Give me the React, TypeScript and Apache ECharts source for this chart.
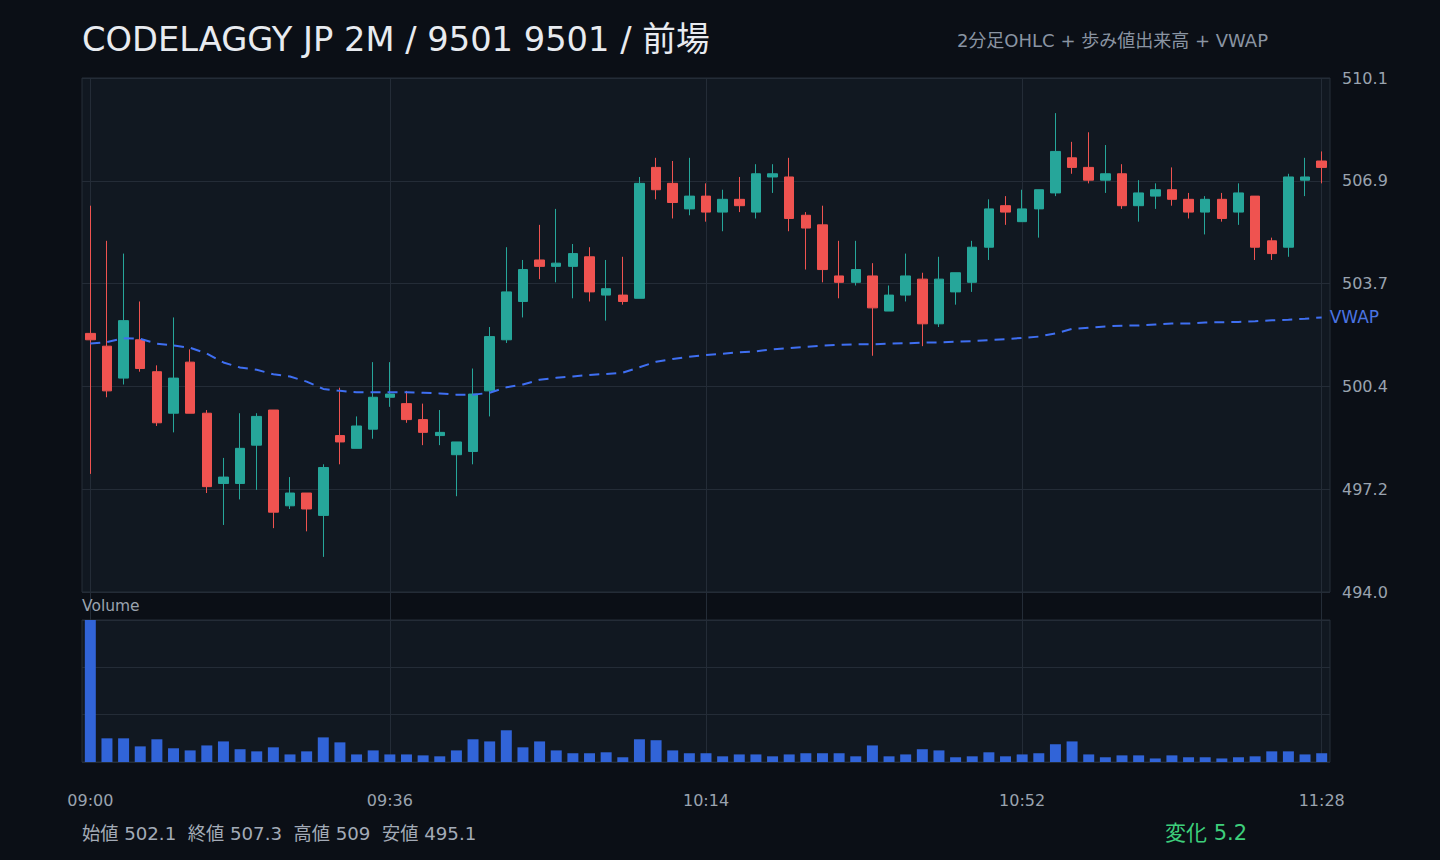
import React, { useEffect, useRef } from "react";
import * as echarts from "echarts";

const TIMES = [
  "09:00", "09:02", "09:04", "09:06", "09:08", "09:10", "09:12", "09:14", "09:16", "09:18",
  "09:20", "09:22", "09:24", "09:26", "09:28", "09:30", "09:32", "09:34", "09:36", "09:38",
  "09:40", "09:42", "09:44", "09:46", "09:48", "09:50", "09:52", "09:54", "09:56", "09:58",
  "10:00", "10:02", "10:04", "10:06", "10:08", "10:10", "10:12", "10:14", "10:16", "10:18",
  "10:20", "10:22", "10:24", "10:26", "10:28", "10:30", "10:32", "10:34", "10:36", "10:38",
  "10:40", "10:42", "10:44", "10:46", "10:48", "10:50", "10:52", "10:54", "10:56", "10:58",
  "11:00", "11:02", "11:04", "11:06", "11:08", "11:10", "11:12", "11:14", "11:16", "11:18",
  "11:20", "11:22", "11:24", "11:26", "11:28",
];

const OPEN = [
  502.1, 501.7, 500.7, 501.9, 500.9, 499.6, 501.2, 499.6, 497.4, 497.4,
  498.6, 499.7, 496.7, 497.1, 496.4, 498.9, 498.5, 499.1, 500.1, 499.9,
  499.4, 498.9, 498.3, 498.4, 500.3, 501.9, 503.1, 504.4, 504.2, 504.2,
  504.5, 503.3, 503.3, 503.2, 507.3, 506.8, 506.0, 506.4, 505.9, 506.3,
  505.9, 507.0, 507.0, 505.8, 505.5, 503.9, 503.7, 503.9, 502.8, 503.3,
  503.8, 502.4, 503.4, 503.7, 504.8, 506.1, 505.6, 506.0, 506.5, 507.6,
  507.3, 506.9, 507.1, 506.1, 506.4, 506.6, 506.3, 505.9, 506.3, 505.9,
  506.4, 505.0, 504.8, 506.9, 507.5,
];
const HIGH = [
  506.1, 505.0, 504.6, 503.1, 501.1, 502.6, 501.6, 499.7, 498.2, 499.6,
  499.6, 499.7, 497.6, 497.1, 498.0, 500.4, 499.5, 501.2, 501.2, 500.3,
  499.9, 499.7, 498.7, 501.0, 502.3, 504.8, 504.4, 505.5, 506.0, 504.9,
  504.8, 504.4, 504.5, 507.0, 507.6, 507.5, 507.6, 506.8, 506.6, 507.0,
  507.4, 507.4, 507.6, 505.9, 506.1, 505.0, 505.0, 504.3, 503.6, 504.6,
  504.0, 504.5, 504.0, 505.0, 506.3, 506.4, 506.6, 506.6, 509.0, 508.1,
  508.4, 508.0, 507.4, 506.9, 506.8, 507.3, 506.5, 506.4, 506.5, 506.8,
  506.4, 505.1, 507.1, 507.6, 507.8,
];
const LOW = [
  497.7, 500.1, 500.5, 500.9, 499.2, 499.0, 499.6, 497.1, 496.1, 496.9,
  497.2, 496.0, 496.6, 495.9, 495.1, 498.0, 498.5, 498.8, 499.8, 499.3,
  498.6, 498.6, 497.0, 498.0, 499.5, 501.8, 502.6, 503.8, 503.7, 503.2,
  503.1, 502.5, 503.0, 503.2, 506.3, 505.7, 505.8, 505.6, 505.3, 505.9,
  505.7, 506.5, 505.3, 504.1, 503.7, 503.2, 503.6, 501.4, 502.8, 503.1,
  501.7, 502.3, 503.0, 503.4, 504.4, 505.5, 505.6, 505.1, 506.4, 507.1,
  506.8, 506.5, 506.0, 505.6, 506.0, 506.1, 505.7, 505.2, 505.6, 505.5,
  504.4, 504.4, 504.5, 506.4, 506.8,
];
const CLOSE = [
  501.9, 500.3, 502.5, 501.0, 499.3, 500.7, 499.6, 497.3, 497.6, 498.5,
  499.5, 496.5, 497.1, 496.6, 497.9, 498.7, 499.2, 500.1, 500.2, 499.4,
  499.0, 499.0, 498.7, 500.2, 502.0, 503.4, 504.1, 504.2, 504.3, 504.6,
  503.4, 503.5, 503.1, 506.8, 506.6, 506.2, 506.4, 505.9, 506.3, 506.1,
  507.1, 507.1, 505.7, 505.4, 504.1, 503.7, 504.1, 502.9, 503.3, 503.9,
  502.4, 503.8, 504.0, 504.8, 506.0, 505.9, 506.0, 506.6, 507.8, 507.3,
  506.9, 507.1, 506.1, 506.5, 506.6, 506.3, 505.9, 506.3, 505.7, 506.5,
  504.8, 504.6, 507.0, 507.0, 507.3,
];
const VWAP = [
  501.78, 501.83, 501.95, 501.93, 501.78, 501.72, 501.65, 501.47, 501.19, 501.03,
  500.96, 500.82, 500.75, 500.59, 500.36, 500.30, 500.26, 500.26, 500.26, 500.26,
  500.24, 500.22, 500.18, 500.18, 500.24, 500.41, 500.50, 500.65, 500.71, 500.75,
  500.80, 500.83, 500.87, 501.04, 501.21, 501.30, 501.37, 501.42, 501.46, 501.51,
  501.54, 501.60, 501.64, 501.68, 501.72, 501.74, 501.76, 501.76, 501.78, 501.79,
  501.81, 501.82, 501.84, 501.86, 501.89, 501.92, 501.96, 502.00, 502.10, 502.24,
  502.28, 502.32, 502.34, 502.35, 502.38, 502.41, 502.41, 502.44, 502.45, 502.46,
  502.48, 502.51, 502.53, 502.56, 502.60,
];
const VOLUME = [
  60000, 10000, 10000, 6600, 9600, 5800, 4900, 7000, 8700, 5400,
  4500, 6200, 3200, 4500, 10400, 8300, 3200, 4900, 3200, 3200,
  2800, 2400, 4900, 9600, 8700, 13400, 6200, 8700, 4900, 3700,
  3700, 4100, 2000, 9600, 9200, 4900, 3700, 3700, 2400, 3200,
  3200, 2400, 3200, 3700, 3700, 3700, 2400, 7000, 2400, 3200,
  5400, 4900, 2000, 2400, 4100, 2400, 3200, 3700, 7500, 8700,
  3200, 2000, 2800, 2800, 1500, 2800, 2000, 2000, 1500, 2000,
  2400, 4500, 4500, 3200, 3700,
];
const LABEL_IDX = [0, 18, 37, 56, 74];
const PRICE_MIN = 494.0;
const PRICE_MAX = 510.1;
const PRICE_STEP = 3.22;
const VOL_MAX = 60000;
const VOL_STEP = 20000;

const TITLE = "CODELAGGY JP 2M / 9501 9501 / 前場";
const SUBTITLE = "2分足OHLC + 歩み値出来高 + VWAP";

const FONT = "'DejaVu Sans', 'Noto Sans CJK JP', sans-serif";
const PAGE_BG = "#0b0f16";
const PLOT_BG = "#111821";
const BORDER = "#262e39";
const GRID_LINE = "#242c37";
const AXIS_TEXT = "#9aa3af";
const UP = "#26a69a";
const DOWN = "#ef5350";
const VWAP_COLOR = "#3f6ff2";
const VOL_COLOR = "#3164d8";

export default function App() {
  const ref = useRef<HTMLDivElement>(null);

  useEffect(() => {
    document.body.style.margin = "0";
    document.body.style.background = PAGE_BG;
    const chart = echarts.init(ref.current!, null, { renderer: "svg" });

    const first = OPEN[0];
    const last = CLOSE[CLOSE.length - 1];
    const hi = Math.max(...HIGH);
    const lo = Math.min(...LOW);
    const change = (last - first).toFixed(1);
    const stats = `始値 ${first}  終値 ${last}  高値 ${hi}  安値 ${lo}`;
    const range = Number((PRICE_MAX - PRICE_MIN).toFixed(2));

    const candleData = OPEN.map((o, i) => [
      o - PRICE_MIN,
      CLOSE[i] - PRICE_MIN,
      LOW[i] - PRICE_MIN,
      HIGH[i] - PRICE_MIN,
    ]);
    const vwapData = VWAP.map((v) => v - PRICE_MIN);

    const option: any = {
      animation: false,
      backgroundColor: PAGE_BG,
      textStyle: { fontFamily: FONT },
      title: [
        {
          text: TITLE,
          left: 82,
          top: 23,
          padding: 0,
          textStyle: { color: "#e8ebf0", fontSize: 33.7, fontWeight: "normal", fontFamily: FONT },
        },
        {
          text: SUBTITLE,
          right: 172,
          top: 31,
          padding: 0,
          textStyle: { color: "#8a94a2", fontSize: 18, fontWeight: "normal", fontFamily: FONT },
        },
        {
          text: "Volume",
          left: 82,
          top: 598,
          padding: 0,
          textStyle: { color: AXIS_TEXT, fontSize: 15.5, fontWeight: "normal", fontFamily: FONT },
        },
        {
          text: stats,
          left: 82,
          top: 824,
          padding: 0,
          textStyle: { color: "#a3abb7", fontSize: 18.2, fontWeight: "normal", fontFamily: FONT },
        },
        {
          text: `変化 ${change}`,
          left: 1165,
          top: 822,
          padding: 0,
          textStyle: { color: "#3ecf7c", fontSize: 21, fontWeight: "normal", fontFamily: FONT },
        },
      ],
      grid: [
        {
          left: 82, width: 1248, top: 78, height: 514,
          show: true, backgroundColor: PLOT_BG, borderColor: BORDER, borderWidth: 1,
        },
        {
          left: 82, width: 1248, top: 620, height: 142,
          show: true, backgroundColor: PLOT_BG, borderColor: BORDER, borderWidth: 1,
        },
        { left: 82, width: 1248, top: 78, height: 684 },
      ],
      xAxis: [
        {
          type: "category", gridIndex: 0, data: TIMES, boundaryGap: true,
          axisLine: { show: false }, axisTick: { show: false }, axisLabel: { show: false },
          splitLine: { show: false },
        },
        {
          type: "category", gridIndex: 1, data: TIMES, boundaryGap: true,
          axisLine: { show: false }, axisTick: { show: false },
          axisLabel: {
            interval: (i: number) => LABEL_IDX.includes(i),
            color: AXIS_TEXT, fontSize: 16, margin: 30, fontFamily: FONT,
          },
          splitLine: { show: false },
        },
        {
          type: "category", gridIndex: 2, data: TIMES, boundaryGap: true, show: false,
        },
      ],
      yAxis: [
        {
          type: "value", gridIndex: 0, position: "right",
          min: 0, max: range, interval: PRICE_STEP,
          axisLine: { show: false }, axisTick: { show: false },
          axisLabel: {
            formatter: (v: number) => (v + PRICE_MIN).toFixed(1),
            color: AXIS_TEXT, fontSize: 16, margin: 12, fontFamily: FONT,
          },
          splitLine: { lineStyle: { color: GRID_LINE, width: 1 } },
        },
        {
          type: "value", gridIndex: 1, position: "right",
          min: 0, max: VOL_MAX, interval: VOL_STEP,
          axisLine: { show: false }, axisTick: { show: false }, axisLabel: { show: false },
          splitLine: { lineStyle: { color: GRID_LINE, width: 1 } },
        },
        { type: "value", gridIndex: 2, min: 0, max: 1, show: false, splitLine: { show: false } },
      ],
      series: [
        {
          type: "line",
          xAxisIndex: 2,
          yAxisIndex: 2,
          data: [],
          silent: true,
          z: 1,
          markLine: {
            silent: true,
            z: 1,
            symbol: ["none", "none"],
            label: { show: false },
            lineStyle: { color: GRID_LINE, width: 1, type: "solid" },
            data: LABEL_IDX.map((i) => ({ xAxis: TIMES[i] })),
          },
        },
        {
          type: "candlestick",
          xAxisIndex: 0,
          yAxisIndex: 0,
          data: candleData,
          barWidth: "60%",
          z: 3,
          itemStyle: {
            color: UP,
            color0: DOWN,
            borderColor: UP,
            borderColor0: DOWN,
            borderWidth: 1,
          },
        },
        {
          type: "line",
          xAxisIndex: 0,
          yAxisIndex: 0,
          data: vwapData,
          showSymbol: false,
          symbol: "none",
          z: 4,
          lineStyle: { color: VWAP_COLOR, width: 2, type: [10, 7] },
          endLabel: {
            show: true,
            formatter: "VWAP",
            color: "#4a74e2",
            fontSize: 17,
            distance: 8,
            fontFamily: FONT,
          },
        },
        {
          type: "bar",
          xAxisIndex: 1,
          yAxisIndex: 1,
          data: VOLUME,
          barWidth: "66%",
          z: 3,
          itemStyle: { color: VOL_COLOR },
        },
      ],
    };

    chart.setOption(option);
    return () => chart.dispose();
  }, []);

  return <div ref={ref} style={{ width: 1440, height: 860 }} />;
}
